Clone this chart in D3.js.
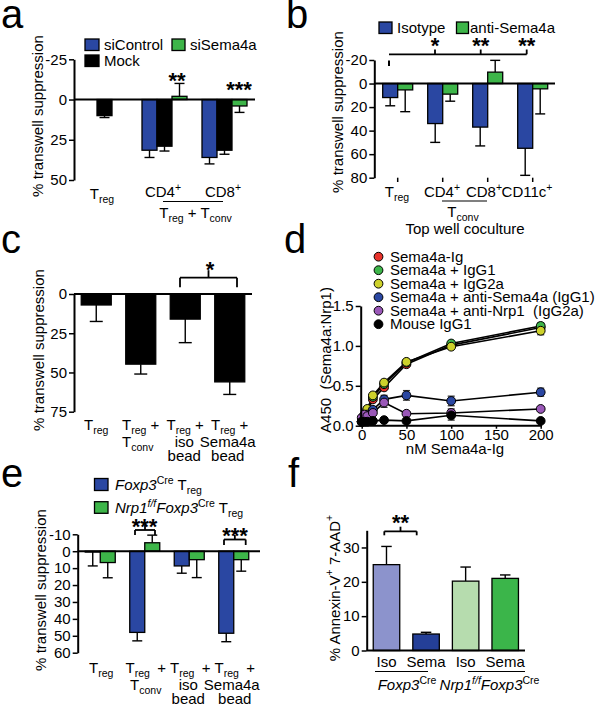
<!DOCTYPE html>
<html><head><meta charset="utf-8">
<script src="https://cdn.jsdelivr.net/npm/d3@7"></script>
<style>
body{margin:0;background:#fff;}
svg{display:block;font-family:"Liberation Sans",Arial,Helvetica,sans-serif;}
text{white-space:pre;}
</style></head><body>
<script>
// ---------- DATA ----------
// Panel a
const aGroups = ["Treg", "CD4", "CD8"];
const aSiControl = [null, 31.5, 36];
const aSiControlErr = [null, 4.5, 4];
const aMock = [10, 29, 31.5];
const aMockErr = [1.2, 3, 2.5];
const aSiSema4a = [null, -2, 4];
const aSiSema4aErr = [null, 8, 4];
const aTicks = [-25, 0, 25, 50];

// Panel b
const bGroups = ["Treg", "CD4", "CD8", "CD11c"];
const bIsotype = [11.9, 34, 37, 55];
const bIsotypeErr = [7, 16, 16, 23];
const bAntiSema4a = [5.4, 9, -9.7, 4.5];
const bAntiSema4aErr = [18.5, 6, 10, 21.3];
const bTicks = [-20, 0, 20, 40, 60, 80];

// Panel c
const cGroups = ["Treg", "Treg+Tconv", "iso bead", "Sema4a bead"];
const cValues = [7, 44.7, 16, 56];
const cErr = [10.5, 6.3, 15, 8];
const cTicks = [0, 25, 50, 75];

// Panel d
const dConc = [0, 3.125, 6.25, 12.5, 25, 50, 100, 200];
const dSema4aIg = [0.05, 0.10, 0.18, 0.33, 0.48, 0.77, 1.01, 1.23];
const dSema4aIgErr = [0, 0, 0, 0, 0.02, 0.03, 0.03, 0.04];
const dIgG1 = [0.05, 0.10, 0.20, 0.36, 0.52, 0.79, 1.03, 1.25];
const dIgG1Err = [0, 0, 0, 0, 0.02, 0.03, 0.03, 0.04];
const dIgG2a = [0.05, 0.11, 0.21, 0.38, 0.54, 0.80, 0.99, 1.19];
const dIgG2aErr = [0, 0, 0, 0, 0.02, 0.03, 0.03, 0.05];
const dAntiSema4a = [0.05, 0.08, 0.14, 0.20, 0.33, 0.38, 0.31, 0.42];
const dAntiSema4aErr = [0, 0, 0, 0, 0.05, 0.06, 0.06, 0.05];
const dAntiNrp1 = [0.10, 0.14, 0.12, 0.16, 0.29, 0.15, 0.16, 0.21];
const dAntiNrp1Err = [0, 0, 0, 0, 0.06, 0.02, 0.05, 0.02];
const dMouseIgG1 = [0.05, 0.05, 0.05, 0.06, 0.07, 0.06, 0.13, 0.06];
const dMouseIgG1Err = [0, 0, 0, 0, 0.02, 0.02, 0.06, 0.02];
const dXTicks = [0, 50, 100, 150, 200];
const dYTicks = [0, 0.5, 1.0, 1.5];

// Panel e
const eGroups = ["Treg", "Treg+Tconv", "iso bead", "Sema4a bead"];
const eFoxp3 = [0.5, 48, 8.7, 48.5];
const eFoxp3Err = [8.2, 5, 4.3, 5];
const eNrp1 = [6.7, -5, 5, 5];
const eNrp1Err = [9, 4.5, 10.6, 6.8];
const eTicks = [-10, 0, 10, 20, 30, 40, 50, 60];

// Panel f
const fGroups = ["Foxp3 Iso", "Foxp3 Sema", "Nrp1 Iso", "Nrp1 Sema"];
const fLabels = ["Iso", "Sema", "Iso", "Sema"];
const fValues = [25, 4.8, 20.2, 21];
const fErr = [5.3, 0.5, 4.1, 1];
const fTicks = [0, 10, 20, 30];

// ---------- STYLE ----------
const BLUE = "#2a47a2", GREEN = "#3db549", BLACK = "#000";
const fColors = ["#8c93cc", "#243f98", "#b6dcae", "#3bb54a"];
const FS = 15;

const svg = d3.select("body").append("svg").attr("width", 595).attr("height", 706);

function rich(g, x, y, parts, o = {}) {
  const size = o.size || FS;
  const t = g.append("text").attr("x", x).attr("y", y)
    .attr("text-anchor", o.anchor || "middle").style("font-size", size + "px").attr("fill", "#000");
  if (o.transform) t.attr("transform", o.transform);
  if (o.weight) t.style("font-weight", o.weight);
  let cur = 0;
  parts.forEach(p => {
    if (typeof p === "string") p = { t: p };
    const shift = p.sub ? size * 0.27 : p.sup ? -size * 0.42 : 0;
    const ts = t.append("tspan").text(p.t).attr("dy", shift - cur);
    cur = shift;
    if (p.sub || p.sup) ts.style("font-size", (size * 0.7) + "px");
    if (p.i) ts.style("font-style", "italic");
  });
  return t;
}
const TREG = ["T", { t: "reg", sub: true }];
const TCONV = ["T", { t: "conv", sub: true }];

function line(g, x1, y1, x2, y2, w = 1.5) {
  g.append("line").attr("x1", x1).attr("y1", y1).attr("x2", x2).attr("y2", y2)
    .attr("stroke", "#000").attr("stroke-width", w);
}
function yAxis(g, x, scale, ticks, fmt) {
  const ax = d3.axisLeft(scale).tickValues(ticks).tickSize(5).tickSizeOuter(0).tickPadding(2)
    .tickFormat(fmt || (d => (d < 0 ? "-" : "") + Math.abs(d)));
  const gg = g.append("g").attr("transform", `translate(${x},0)`).call(ax);
  gg.attr("font-family", null).attr("font-size", null);
  gg.select(".domain").attr("stroke-width", 2);
  gg.selectAll(".tick line").attr("stroke-width", 1.5);
  gg.selectAll(".tick text").style("font-size", FS + "px").attr("fill", "#000");
  return gg;
}
function bar(g, x, w, y, v, fill) {
  const y0 = y(0), y1 = y(v);
  g.append("rect").attr("x", x).attr("y", Math.min(y0, y1)).attr("width", w)
    .attr("height", Math.abs(y1 - y0)).attr("fill", fill).attr("stroke", "#000").attr("stroke-width", 1.3);
}
function err(g, cx, y, v, e, cap) {
  const ve = v + (v >= 0 ? e : -e);
  line(g, cx, y(v), cx, y(ve), 1.4);
  line(g, cx - cap / 2, y(ve), cx + cap / 2, y(ve), 1.4);
}
function stars(g, x, cy, s) {
  g.append("text").attr("x", x).attr("y", cy + 12.5).attr("text-anchor", "middle")
    .style("font-size", "22px").style("font-weight", "bold").text(s);
}
function bracket(g, x1, x2, y, legDown, tickUp) {
  line(g, x1, y, x2, y, 1.8);
  line(g, x1, y, x1, y + legDown, 1.8);
  line(g, x2, y, x2, y + legDown, 1.8);
  line(g, (x1 + x2) / 2, y, (x1 + x2) / 2, y - tickUp, 1.8);
}
function legendBox(g, x, y, w, h, fill) {
  g.append("rect").attr("x", x).attr("y", y).attr("width", w).attr("height", h)
    .attr("fill", fill).attr("stroke", "#000").attr("stroke-width", 1.3);
}
function letter(s, x, y) {
  svg.append("text").attr("x", x).attr("y", y).style("font-size", "40px").text(s);
}

// ---------- PANEL A ----------
(function () {
  const g = svg.append("g");
  const y = d3.scaleLinear().domain([-25, 50]).range([59.3, 180]);
  const x = d3.scaleBand().domain(aGroups).range([74.5, 254.5]);
  const bw = 15;
  aGroups.forEach((grp, i) => {
    const c = x(grp) + x.bandwidth() / 2;
    const series = [[aSiControl, aSiControlErr, BLUE, -bw], [aMock, aMockErr, BLACK, 0], [aSiSema4a, aSiSema4aErr, GREEN, bw]];
    series.forEach(([vals, errs, col, off]) => {
      if (vals[i] == null) return;
      err(g, c + off, y, vals[i], errs[i], 10);
      bar(g, c + off - bw / 2, bw, y, vals[i], col);
    });
  });
  line(g, 74, y(0), 255, y(0), 2);
  yAxis(g, 74, y, aTicks);
  letter("a", 1, 28);
  rich(g, 0, 0, ["% transwell suppression"], { transform: "translate(43,116) rotate(-90)" });
  rich(g, 102, 199, TREG);
  rich(g, 163, 197, ["CD4", { t: "+", sup: true }]);
  rich(g, 223, 197, ["CD8", { t: "+", sup: true }]);
  line(g, 163, 201.5, 223, 201.5, 1.2);
  rich(g, 195.5, 218, [...TREG, " + ", ...TCONV]);
  stars(g, 177, 75, "**");
  stars(g, 239, 84.5, "***");
  legendBox(g, 85, 39, 14, 11.5, BLUE);
  rich(g, 104, 50, ["siControl"], { anchor: "start" });
  legendBox(g, 172, 39, 13, 11.5, GREEN);
  rich(g, 190, 50, ["siSema4a"], { anchor: "start" });
  legendBox(g, 85, 55, 14, 11.5, BLACK);
  rich(g, 104, 66, ["Mock"], { anchor: "start" });
})();

// ---------- PANEL B ----------
(function () {
  const g = svg.append("g");
  const y = d3.scaleLinear().domain([-20, 80]).range([60, 177.7]);
  const x = d3.scaleBand().domain(bGroups).range([375.2, 555.2]);
  const bw = 15;
  bGroups.forEach((grp, i) => {
    const c = x(grp) + x.bandwidth() / 2;
    err(g, c - bw / 2, y, bIsotype[i], bIsotypeErr[i], 10);
    bar(g, c - bw, bw, y, bIsotype[i], BLUE);
    err(g, c + bw / 2, y, bAntiSema4a[i], bAntiSema4aErr[i], 10);
    bar(g, c, bw, y, bAntiSema4a[i], GREEN);
    line(g, c, 177.7, c, 182, 1.5);
  });
  line(g, 374.3, y(0), 555, y(0), 2);
  yAxis(g, 374.3, y, bTicks);
  letter("b", 286, 28);
  rich(g, 0, 0, ["% transwell suppression"], { transform: "translate(343,112) rotate(-90)" });
  rich(g, 397, 197, TREG);
  rich(g, 442, 197, ["CD4", { t: "+", sup: true }]);
  rich(g, 484, 197, ["CD8", { t: "+", sup: true }]);
  rich(g, 527, 197, ["CD11c", { t: "+", sup: true }]);
  line(g, 442, 201, 487, 201, 1.2);
  rich(g, 463, 217, TCONV);
  rich(g, 465, 233.5, ["Top well coculture"]);
  // significance bracket
  line(g, 389, 54.3, 526.7, 54.3, 1.8);
  line(g, 389, 60.5, 389, 66, 2);
  [435, 480.7, 526.7].forEach(xx => line(g, xx, 49.5, xx, 54.3, 1.8));
  stars(g, 435, 40, "*");
  stars(g, 480.7, 40, "**");
  stars(g, 526.7, 40, "**");
  legendBox(g, 379, 22, 13, 11.5, BLUE);
  rich(g, 397, 33, ["Isotype"], { anchor: "start" });
  legendBox(g, 456.5, 22, 12, 11.5, GREEN);
  rich(g, 470, 33, ["anti-Sema4a"], { anchor: "start" });
})();

// ---------- PANEL C ----------
(function () {
  const g = svg.append("g");
  const y = d3.scaleLinear().domain([0, 75]).range([294, 411.7]);
  const x = d3.scaleBand().domain(cGroups).range([74, 252]);
  const bw = 30;
  cGroups.forEach((grp, i) => {
    const c = x(grp) + x.bandwidth() / 2;
    err(g, c, y, cValues[i], cErr[i], 13);
    bar(g, c - bw / 2, bw, y, cValues[i], BLACK);
  });
  line(g, 74, y(0), 252, y(0), 2);
  yAxis(g, 74, y, cTicks);
  letter("c", 1, 253);
  rich(g, 0, 0, ["% transwell suppression"], { transform: "translate(44,350) rotate(-90)" });
  const cx = cGroups.map(gp => x(gp) + x.bandwidth() / 2);
  rich(g, cx[0], 430, TREG);
  rich(g, cx[1], 430, [...TREG, " +"]);
  rich(g, cx[1] - 3, 446.5, TCONV);
  rich(g, cx[2], 430, [...TREG, " +"]);
  rich(g, cx[2] - 1, 446.5, ["iso"]);
  rich(g, cx[2] - 1, 460.5, ["bead"]);
  rich(g, cx[3], 430, [...TREG, " +"]);
  rich(g, cx[3] - 2, 446.5, ["Sema4a"]);
  rich(g, cx[3] - 2, 460.5, ["bead"]);
  bracket(g, 180, 237, 277.7, 9.5, 7.5);
  stars(g, 210, 264, "*");
})();

// ---------- PANEL D ----------
(function () {
  const g = svg.append("g");
  const x = d3.scaleLinear().domain([0, 200]).range([361.7, 540.7]);
  const y = d3.scaleLinear().domain([0, 1.5]).range([425.7, 306]);
  const series = [
    ["Sema4a-Ig", dSema4aIg, dSema4aIgErr, "#e8322b"],
    ["Sema4a + IgG1", dIgG1, dIgG1Err, "#3db549"],
    ["Sema4a + IgG2a", dIgG2a, dIgG2aErr, "#cdd12b"],
    ["Sema4a + anti-Sema4a (IgG1)", dAntiSema4a, dAntiSema4aErr, "#2a47a2"],
    ["Sema4a + anti-Nrp1  (IgG2a)", dAntiNrp1, dAntiNrp1Err, "#9a58b8"],
    ["Mouse IgG1", dMouseIgG1, dMouseIgG1Err, "#000"]
  ];
  const ln = d3.line().x((d, i) => x(dConc[i])).y(d => y(d));
  series.forEach(([name, vals, errs]) => {
    g.append("path").attr("d", ln(vals)).attr("fill", "none").attr("stroke", "#000").attr("stroke-width", 1.6);
    vals.forEach((v, i) => {
      if (!errs[i]) return;
      const xx = x(dConc[i]);
      g.append("line").attr("x1", xx).attr("x2", xx).attr("y1", y(v - errs[i])).attr("y2", y(v + errs[i])).attr("stroke", "#333").attr("stroke-width", 1.3);
      [v - errs[i], v + errs[i]].forEach(e => g.append("line").attr("x1", xx - 3.5).attr("x2", xx + 3.5).attr("y1", y(e)).attr("y2", y(e)).attr("stroke", "#333").attr("stroke-width", 1.3));
    });
  });
  series.forEach(([name, vals, errs, col]) => {
    g.selectAll(null).data(vals).enter().append("circle")
      .attr("cx", (d, i) => x(dConc[i])).attr("cy", d => y(d)).attr("r", 4.4)
      .attr("fill", col).attr("stroke", "#000").attr("stroke-width", 1);
  });
  yAxis(g, 360.7, y, dYTicks, d3.format(".1f"));
  const xa = d3.axisBottom(x).tickValues(dXTicks).tickSize(3).tickSizeOuter(0).tickPadding(1).tickFormat(d => String(d));
  const xg = g.append("g").attr("transform", "translate(0,425.7)").call(xa);
  xg.attr("font-family", null).attr("font-size", null);
  xg.select(".domain").attr("stroke-width", 2).attr("d", "M360.7,0H542");
  xg.selectAll(".tick line").attr("stroke-width", 1.5);
  xg.selectAll(".tick text").style("font-size", FS + "px").attr("fill", "#000");
  letter("d", 284, 253);
  rich(g, 0, 0, ["A450  (Sema4a:Nrp1)"], { transform: "translate(331,360) rotate(-90)" });
  rich(g, 455, 453.5, ["nM Sema4a-Ig"]);
  series.forEach(([name, vals, errs, col], i) => {
    const cy = 256.7 + i * 13.5;
    g.append("circle").attr("cx", 378.5).attr("cy", cy).attr("r", 4.4).attr("fill", col).attr("stroke", "#000").attr("stroke-width", 1);
    rich(g, 390, cy + 5.2, [name], { anchor: "start" });
  });
})();

// ---------- PANEL E ----------
(function () {
  const g = svg.append("g");
  const y = d3.scaleLinear().domain([-10, 60]).range([534.3, 652.7]);
  const x = d3.scaleBand().domain(eGroups).range([78, 256]);
  const bw = 15;
  const cx = eGroups.map(gp => x(gp) + x.bandwidth() / 2);
  eGroups.forEach((grp, i) => {
    const c = cx[i];
    err(g, c - bw / 2, y, eFoxp3[i], eFoxp3Err[i], 10);
    bar(g, c - bw, bw, y, eFoxp3[i], BLUE);
    err(g, c + bw / 2, y, eNrp1[i], eNrp1Err[i], 10);
    bar(g, c, bw, y, eNrp1[i], GREEN);
  });
  line(g, 77.7, y(0), 260, y(0), 2);
  yAxis(g, 77.7, y, eTicks);
  letter("e", 1, 487);
  rich(g, 0, 0, ["% transwell suppression"], { transform: "translate(45.5,590) rotate(-90)" });
  rich(g, cx[0] + 1, 673, TREG);
  [1, 2, 3].forEach(i => {
    rich(g, cx[i] - 7, 673, TREG);
    rich(g, cx[i] + 17, 673, ["+"]);
  });
  rich(g, cx[1] + 1, 690, TCONV);
  rich(g, cx[2] - 1, 690, ["iso"]);
  rich(g, cx[2] - 1, 704, ["bead"]);
  rich(g, cx[3] - 2, 690, ["Sema4a"]);
  rich(g, cx[3] + 1, 704, ["bead"]);
  bracket(g, 135, 155, 530, 5, 5);
  stars(g, 144.5, 521, "***");
  bracket(g, 224, 245.7, 539.5, 5.5, 4.5);
  stars(g, 235, 530.5, "***");
  legendBox(g, 94.5, 478.5, 13.5, 12, BLUE);
  rich(g, 115, 490, [{ t: "Foxp3", i: true }, { t: "Cre", sup: true }, " T", { t: "reg", sub: true }], { anchor: "start" });
  legendBox(g, 94.5, 501.7, 13.5, 11.6, GREEN);
  rich(g, 115, 513.3, [{ t: "Nrp1", i: true }, { t: "f/f", sup: true, i: true }, { t: "Foxp3", i: true }, { t: "Cre", sup: true }, " T", { t: "reg", sub: true }], { anchor: "start" });
})();

// ---------- PANEL F ----------
(function () {
  const g = svg.append("g");
  const y = d3.scaleLinear().domain([0, 35]).range([650.5, 530.3]);
  const x = d3.scaleBand().domain(fGroups).range([366.7, 525]);
  const bw = 26.5;
  const cx = fGroups.map(gp => x(gp) + x.bandwidth() / 2);
  fGroups.forEach((grp, i) => {
    err(g, cx[i], y, fValues[i], fErr[i], 10.5);
    bar(g, cx[i] - bw / 2, bw, y, fValues[i], fColors[i]);
    rich(g, cx[i], 666.5, [fLabels[i]]);
  });
  line(g, 366.7, 650.5, 525, 650.5, 2);
  yAxis(g, 366.7, y, fTicks);
  letter("f", 288, 487);
  rich(g, 0, 0, ["% Annexin-V", { t: "+", sup: true }, " 7-AAD", { t: "+", sup: true }], { transform: "translate(339.5,588) rotate(-90)" });
  line(g, 375, 671.5, 428, 671.5, 1.2);
  line(g, 468, 671.5, 525, 671.5, 1.2);
  rich(g, 407, 690, [{ t: "Foxp3", i: true }, { t: "Cre", sup: true }]);
  rich(g, 489.5, 690, [{ t: "Nrp1", i: true }, { t: "f/f", sup: true, i: true }, { t: "Foxp3", i: true }, { t: "Cre", sup: true }]);
  bracket(g, 384.3, 416.7, 531.3, 4, 4.6);
  stars(g, 400.5, 517.5, "**");
})();
</script>
</body></html>
